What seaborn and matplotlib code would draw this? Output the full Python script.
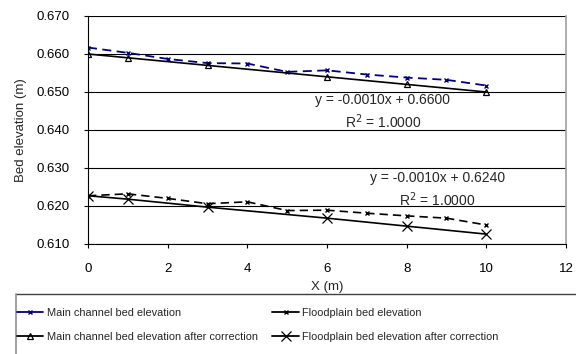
import matplotlib
matplotlib.use("Agg")
import matplotlib.pyplot as plt
import seaborn as sns
import numpy as np
from matplotlib.lines import Line2D

sns.set_style("white")
plt.rcParams['font.family'] = ['Liberation Sans', 'DejaVu Sans']

x_all = [0, 1, 2, 3, 4, 5, 6, 7, 8, 9, 10]
main_bed = [0.6617, 0.6603, 0.6587, 0.6576, 0.6575, 0.6553, 0.6557, 0.6546, 0.6538, 0.6532, 0.6517]
flood_bed = [0.6227, 0.6232, 0.6220, 0.6206, 0.6211, 0.6188, 0.6189, 0.6181, 0.6174, 0.6168, 0.6150]
x_corr = [0, 1, 3, 6, 8, 10]
main_corr = [0.6600, 0.6590, 0.6570, 0.6540, 0.6520, 0.6500]
flood_corr = [0.6227, 0.6218, 0.6197, 0.6168, 0.6147, 0.6126]

labels = ["Main channel bed elevation",
          "Main channel bed elevation after correction",
          "Floodplain bed elevation",
          "Floodplain bed elevation after correction"]
eq1 = ["y = -0.0010x + 0.6600", "R$^2$ = 1.0000"]
eq2 = ["y = -0.0010x + 0.6240", "R$^2$ = 1.0000"]

fig = plt.figure(figsize=(5.76, 3.54), dpi=100)
ax = fig.add_axes([88/576, 1-244/354, (566-88)/576, (244-16)/354])

navy = "#000080"
styles = [
    dict(color=navy, marker='x', markersize=3.5, markeredgewidth=1, markeredgecolor=navy,
         markerfacecolor=navy),
    dict(color='black', marker='^', markersize=5, markerfacecolor='none',
         markeredgecolor='black', markeredgewidth=0.9),
    dict(color='black', marker='x', markersize=3.5, markeredgewidth=1,
         markeredgecolor='black', markerfacecolor='black'),
    dict(color='black', marker='x', markersize=7, markeredgewidth=0.9,
         markeredgecolor='black', markerfacecolor='black'),
]
sns.lineplot(x=x_all, y=main_bed, ax=ax, linestyle=(0, (5, 3)), lw=1.3, **styles[0])
sns.lineplot(x=x_corr, y=main_corr, ax=ax, linestyle='-', lw=1.2, **styles[1])
sns.lineplot(x=x_all, y=flood_bed, ax=ax, linestyle=(0, (5, 3)), lw=1.2, **styles[2])
sns.lineplot(x=x_corr, y=flood_corr, ax=ax, linestyle='-', lw=1.2, **styles[3])

ax.set_xlim(0, 12)
ax.set_ylim(0.610, 0.670)
ax.set_xticks(np.arange(0, 13, 2))
ax.set_yticks(np.arange(0.610, 0.6701, 0.010))
ax.set_yticklabels([f"{v:.3f}" for v in np.arange(0.610, 0.6701, 0.010)])
ax.yaxis.grid(True, color='black', lw=0.8)
ax.set_axisbelow(True)
ax.spines['top'].set_visible(False)
ax.spines['right'].set_color('#a0a0a0')
ax.spines['right'].set_linewidth(1.2)
ax.spines['left'].set_color('black')
ax.spines['bottom'].set_color('black')
ax.tick_params(axis='both', direction='out', length=3, width=0.8, labelsize=9.5,
               colors='black', left=True, bottom=True)
ax.tick_params(axis='x', pad=11)
ax.tick_params(axis='y', pad=10)
ax.set_xlabel("X (m)", fontsize=9.5, labelpad=4)
ax.set_ylabel("Bed elevation (m)", fontsize=9.5, labelpad=7)

ax.text(7.4, 0.6479, eq1[0], fontsize=10, ha='center', va='center')
ax.text(7.4, 0.6421, eq1[1], fontsize=10, ha='center', va='center')
ax.text(8.77, 0.6274, eq2[0], fontsize=10, ha='center', va='center')
ax.text(8.77, 0.6216, eq2[1], fontsize=10, ha='center', va='center')

handles = [Line2D([], [], linestyle='-', lw=1.3, **s) for s in styles]
fig.legend(handles, labels, ncol=2, loc='upper left',
           bbox_to_anchor=(17/576, 1-308/354), frameon=False, fontsize=7.9,
           handlelength=2.4, handletextpad=0.3, columnspacing=1.35,
           labelspacing=1.25, borderaxespad=0, borderpad=0.0)
# legend frame: dark top edge, grey left edge (extends past figure)
top_y = 1 - 294/354
fig.add_artist(Line2D([16/576, 1.0], [top_y, top_y], transform=fig.transFigure,
                      color='#404040', lw=1.0))
fig.add_artist(Line2D([16/576, 16/576], [0.0, top_y], transform=fig.transFigure,
                      color='#909090', lw=1.2))

fig.savefig("out.png", dpi=100)
